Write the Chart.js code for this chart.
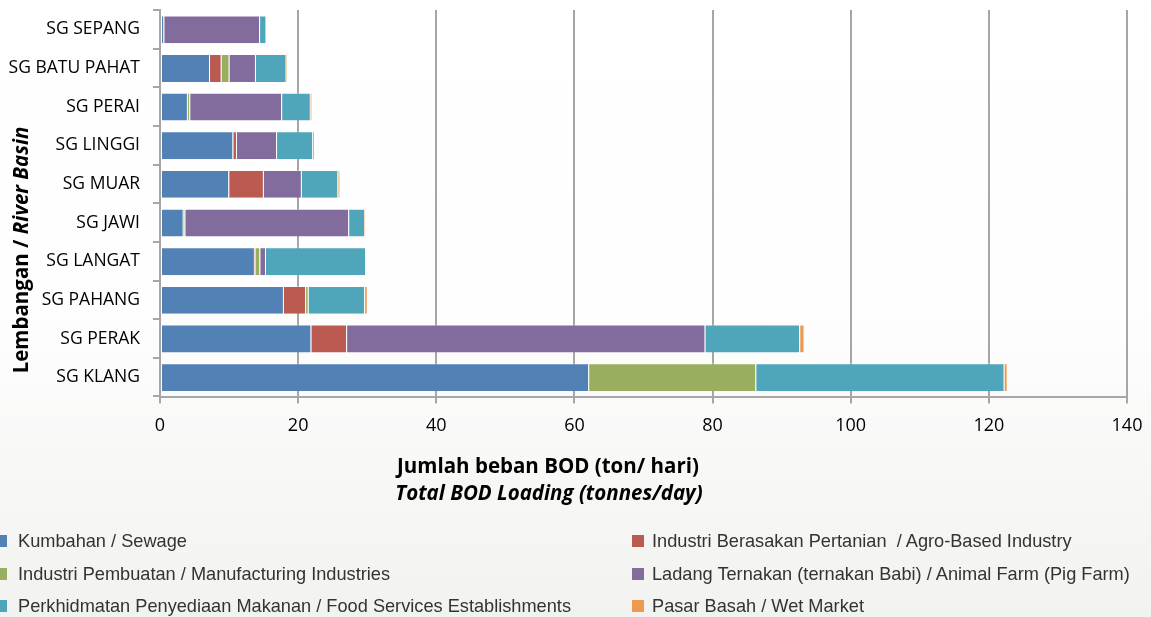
<!DOCTYPE html>
<html>
<head>
<meta charset="utf-8">
<script src="https://cdn.jsdelivr.net/npm/chart.js@4.4.0/dist/chart.umd.min.js"></script>
<style>
  html, body { margin: 0; padding: 0; }
  body {
    width: 1151px; height: 617px; overflow: hidden;
    background: linear-gradient(to bottom, #ffffff 0%, #fefefe 50%, #f2f2f0 100%);
  }
  #wrap { position: relative; width: 1151px; height: 617px; }
  #legend {
    position: absolute; left: 0; top: 0; width: 1151px; height: 617px;
    pointer-events: none;
    font-family: "Liberation Sans", Arial, sans-serif; font-size: 18.2px; color: #333;
  }
  .item { position: absolute; white-space: pre; line-height: 20px; }
  .sw { position: absolute; width: 12px; height: 12px; top: 4px; }
</style>
</head>
<body>
<div id="wrap">
  <canvas id="c" width="1151" height="617"></canvas>
  <div id="legend"></div>
</div>
<script>
// River basins, top to bottom
const categories = ['SG SEPANG', 'SG BATU PAHAT', 'SG PERAI', 'SG LINGGI', 'SG MUAR',
                    'SG JAWI', 'SG LANGAT', 'SG PAHANG', 'SG PERAK', 'SG KLANG'];

// BOD load per source (tonnes/day)
const sewage        = [0.5, 7.1, 3.9, 10.5, 9.9, 3.3, 13.6, 17.8, 21.8, 62.0];
const agroBased     = [0, 1.7, 0, 0.5, 5.0, 0, 0.1, 3.2, 5.15, 0];
const manufacturing = [0, 1.15, 0.35, 0, 0, 0.25, 0.7, 0.4, 0, 24.2];
const animalFarm    = [13.85, 3.8, 13.3, 5.8, 5.5, 23.7, 0.8, 0, 51.9, 0];
const foodServices  = [0.95, 4.45, 4.15, 5.25, 5.3, 2.3, 14.5, 8.15, 13.7, 35.95];
const wetMarket     = [0, 0.15, 0.25, 0.25, 0.3, 0.15, 0.05, 0.4, 0.65, 0.45];

const xTicks = [0, 20, 40, 60, 80, 100, 120, 140];

const seriesNames = [
  'Kumbahan / Sewage',
  'Industri Berasakan Pertanian  / Agro-Based Industry',
  'Industri Pembuatan / Manufacturing Industries',
  'Ladang Ternakan (ternakan Babi) / Animal Farm (Pig Farm)',
  'Perkhidmatan Penyediaan Makanan / Food Services Establishments',
  'Pasar Basah / Wet Market'
];
const seriesColors = ['#5181b5', '#ba5a51', '#9aae5f', '#826b9d', '#4fa6bb', '#ec9a50'];
const seriesValues = [sewage, agroBased, manufacturing, animalFarm, foodServices, wetMarket];

const GRID = '#a6a6a6';
const CAL = '"Open Sans", "Noto Sans", sans-serif';
const TITLE_SIZE = 20.5;

// Axis titles with mixed upright / italic runs
const axisTitles = {
  id: 'axisTitles',
  afterDraw(chart) {
    const ctx = chart.ctx;
    ctx.save();
    ctx.fillStyle = '#000';
    ctx.textBaseline = 'middle';
    ctx.textAlign = 'center';
    ctx.font = 'bold ' + TITLE_SIZE + 'px ' + CAL;
    ctx.fillText('Jumlah beban BOD (ton/ hari)', 548, 467);
    ctx.font = 'italic bold ' + TITLE_SIZE + 'px ' + CAL;
    ctx.fillText('Total BOD Loading (tonnes/day)', 549, 494);

    // vertical title
    ctx.translate(22, 250);
    ctx.rotate(-Math.PI / 2);
    ctx.textAlign = 'left';
    const a = 'Lembangan / ', b = 'River Basin';
    ctx.font = 'bold ' + TITLE_SIZE + 'px ' + CAL;
    const wa = ctx.measureText(a).width;
    ctx.font = 'italic bold ' + TITLE_SIZE + 'px ' + CAL;
    const wb = ctx.measureText(b).width;
    const x0 = -(wa + wb) / 2;
    ctx.font = 'bold ' + TITLE_SIZE + 'px ' + CAL;
    ctx.fillText(a, x0, 0);
    ctx.font = 'italic bold ' + TITLE_SIZE + 'px ' + CAL;
    ctx.fillText(b, x0 + wa, 0);
    ctx.restore();
  }
};

const chart = new Chart(document.getElementById('c'), {
  type: 'bar',
  data: {
    labels: categories,
    datasets: seriesValues.map((vals, i) => ({
      label: seriesNames[i],
      data: vals,
      backgroundColor: seriesColors[i],
      borderColor: 'rgba(255,255,255,0.35)',
      borderWidth: { left: 1, right: 0, top: 1, bottom: 0 },
      borderSkipped: false,
      barPercentage: 0.72,
      categoryPercentage: 1.0
    }))
  },
  options: {
    indexAxis: 'y',
    responsive: false,
    animation: false,
    devicePixelRatio: 1,
    layout: { padding: { top: 10, left: 0, right: 24, bottom: 180.5 } },
    plugins: {
      legend: { display: false },
      tooltip: { enabled: false },
      title: { display: false }
    },
    scales: {
      x: {
        stacked: true,
        min: 0, max: 140,
        afterBuildTicks(scale) { scale.ticks = xTicks.map(v => ({ value: v })); },
        afterFit(scale) { scale.height = 40; scale.paddingLeft = 0; scale.paddingRight = 0; },
        grid: { color: GRID, lineWidth: 2, tickLength: 7, drawTicks: true },
        border: { display: true, color: GRID, width: 2 },
        ticks: { color: '#000', padding: 12, font: { family: CAL, size: 18 }, maxRotation: 0 }
      },
      y: {
        stacked: true,
        afterFit(scale) { scale.width = 160; scale.paddingTop = 0; scale.paddingBottom = 0; },
        grid: { drawOnChartArea: false, drawTicks: true, tickLength: 7, color: GRID, lineWidth: 2, offset: true },
        border: { display: true, color: GRID, width: 2 },
        ticks: { color: '#000', padding: 13, font: { family: CAL, size: 17.5 } }
      }
    }
  },
  plugins: [axisTitles]
});

// Two-column legend built from the chart's datasets
const legend = document.getElementById('legend');
const colText = [18, 652], colSw = [-5, 632], rowMid = [541, 574, 606];
chart.data.datasets.forEach((ds, i) => {
  const col = i % 2, row = Math.floor(i / 2);
  const sw = document.createElement('div');
  sw.className = 'sw';
  sw.style.background = ds.backgroundColor;
  sw.style.left = colSw[col] + 'px';
  sw.style.top = (rowMid[row] - 6) + 'px';
  legend.appendChild(sw);
  const t = document.createElement('div');
  t.className = 'item';
  t.textContent = ds.label;
  t.style.left = colText[col] + 'px';
  t.style.top = (rowMid[row] - 10) + 'px';
  legend.appendChild(t);
});
</script>
</body>
</html>
